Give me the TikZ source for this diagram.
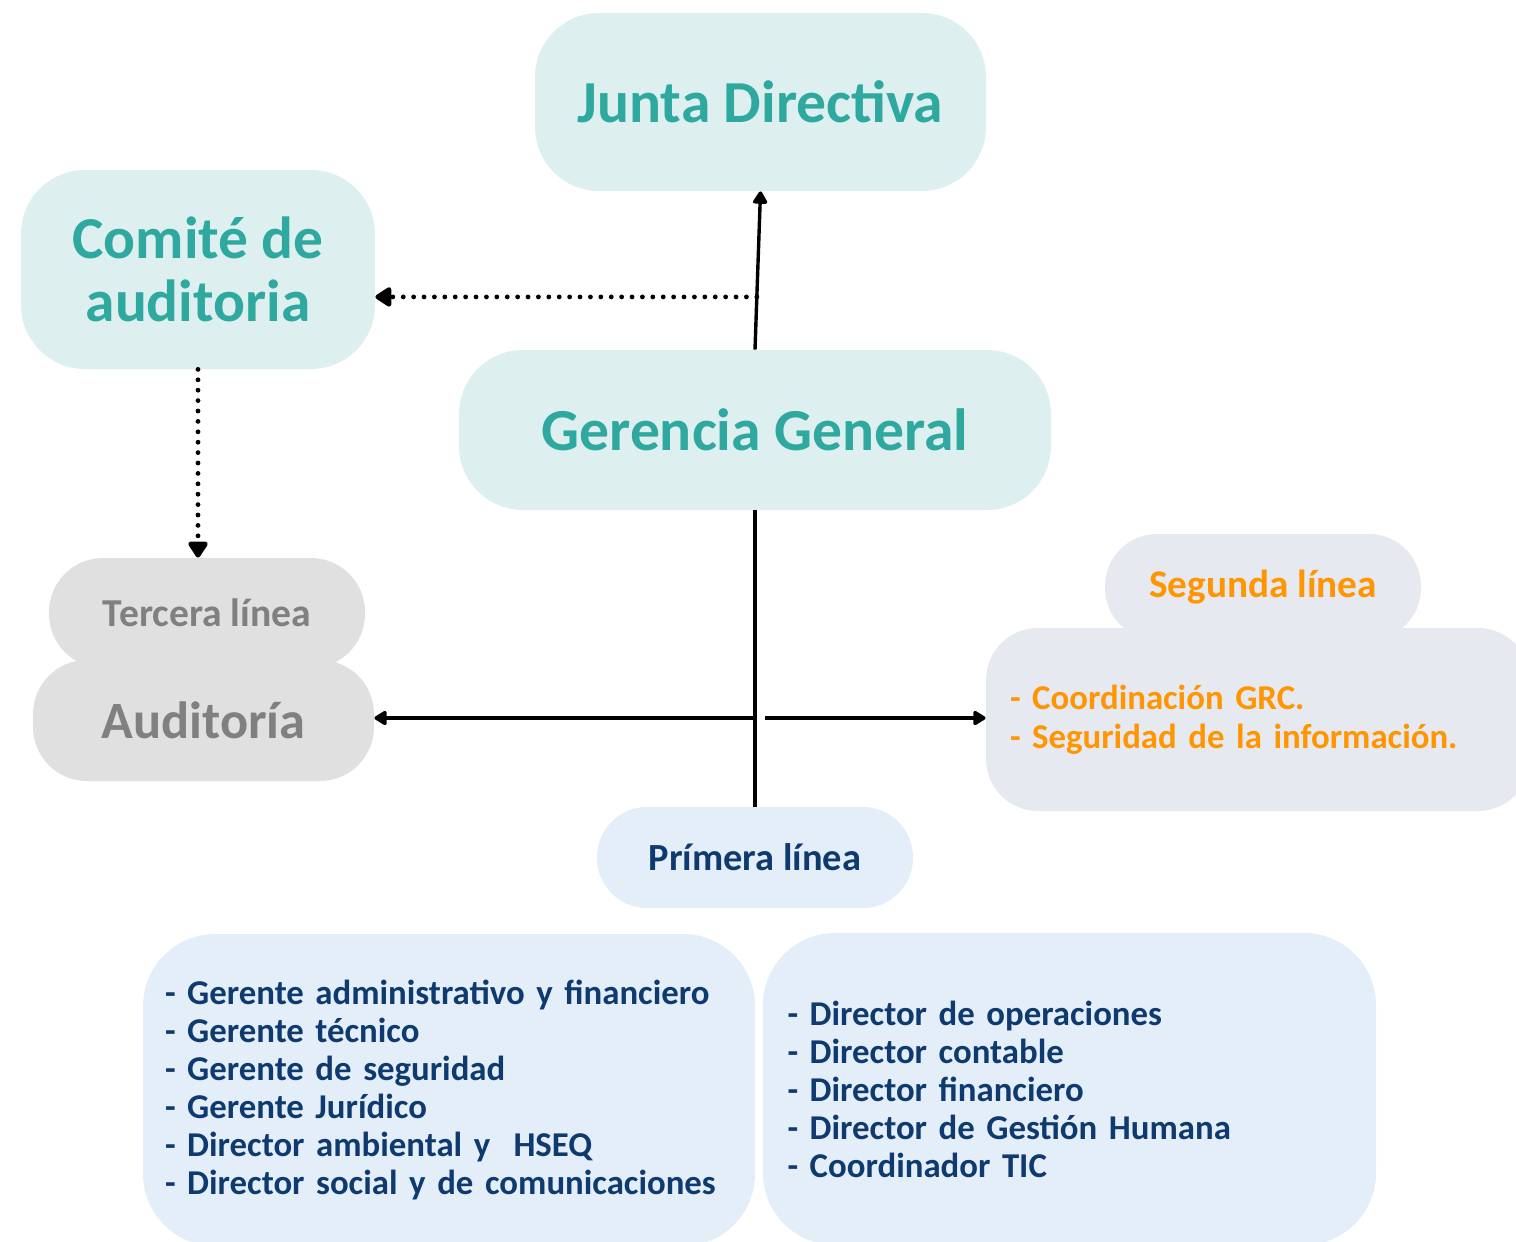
\documentclass[tikz,border=0pt]{standalone}
\usepackage{fontspec}
\setmainfont{Carlito}
\usetikzlibrary{arrows.meta,calc}
\definecolor{tealfill}{HTML}{DDF0EF}
\definecolor{tealtext}{HTML}{2FA99F}
\definecolor{grayfill}{HTML}{E0E0E0}
\definecolor{graytext}{HTML}{808080}
\definecolor{segfill}{HTML}{E6E9F0}
\definecolor{orangetext}{HTML}{FF9500}
\definecolor{bluefill}{HTML}{E4EEF9}
\definecolor{bluetext}{HTML}{0E3A70}
\begin{document}
\begin{tikzpicture}[
 x=0.5pt,y=-0.5pt,
 box/.style={inner sep=0pt,font=\bfseries,align=center},
 tealbox/.style={box,fill=tealfill,text=tealtext,rounded corners=32pt},
 graybox/.style={box,fill=grayfill,text=graytext,rounded corners=27pt},
 segbox/.style={box,fill=segfill,text=orangetext,rounded corners=26pt},
 bluebox/.style={box,fill=bluefill,text=bluetext,rounded corners=25pt},
 listbox/.style={bluebox,rounded corners=36pt,align=left,text width=#1,
  font=\bfseries\fontsize{17.4}{19}\selectfont},
 arr/.style={line width=1.7pt,-{Triangle[length=7pt,width=8pt,round]}},
 dotarr/.style={line width=2.4pt,line cap=round,dash pattern=on 0pt off 5.2pt,
  -{Triangle[length=9pt,width=11pt,round]}},
 plain/.style={line width=1.6pt}
]
\useasboundingbox (0,0) rectangle (1516,1242);
\node[tealbox,minimum width=225.5pt,minimum height=89pt,
 font=\bfseries\fontsize{29.8}{34}\selectfont] (junta) at (760.5,102) {Junta Directiva};
\node[tealbox,minimum width=177pt,minimum height=99.5pt,
 font=\bfseries\fontsize{29.7}{31.5}\selectfont] (comite) at (198,269.5) {Comité de\\auditoria};
\node[tealbox,minimum width=296pt,minimum height=80pt,
 font=\bfseries\fontsize{29.8}{34}\selectfont] (gerencia) at (755,430) {Gerencia General};
\node[graybox,minimum width=158pt,minimum height=55pt,
 font=\bfseries\fontsize{19.8}{23}\selectfont] (tercera) at (207,613) {Tercera línea};
\node[graybox,minimum width=170.5pt,minimum height=60.5pt,
 font=\bfseries\fontsize{26.2}{30}\selectfont] (auditoria) at (203.5,720.5) {Auditoría};
\node[segbox,minimum width=158pt,minimum height=53pt,
 font=\bfseries\fontsize{19.6}{23}\selectfont] (segunda) at (1263,587) {Segunda línea};
\node[segbox,minimum width=272pt,minimum height=91.5pt,align=left,text width=248pt,
 font=\bfseries\fontsize{17.4}{19.5}\selectfont] (segcuerpo) at (1258,719.5)
 {- Coordinación GRC.\\- Seguridad de la información.};
\node[bluebox,minimum width=158pt,minimum height=50.5pt,
 font=\bfseries\fontsize{19.2}{23}\selectfont] (primera) at (755,857.5) {Prímera línea};
\node[listbox=284pt,minimum width=306pt,minimum height=156pt] (gerentes) at (449,1090)
 {- Gerente administrativo y financiero\\- Gerente técnico\\- Gerente de seguridad\\- Gerente Jurídico\\- Director ambiental y \ HSEQ\\- Director social y de comunicaciones};
\node[listbox=282pt,minimum width=306.5pt,minimum height=156pt] (directores) at (1069.5,1089)
 {- Director de operaciones\\- Director contable\\- Director financiero\\- Director de Gestión Humana\\- Coordinador TIC};
\coordinate (cruce) at (757,718);
\coordinate (enlace) at ($(gerencia.north)!0.333!(junta.south)$);
\draw[arr] (gerencia.north) -- (junta.south);
\draw[dotarr] (enlace) -- (enlace -| comite.east);
\draw[dotarr] (comite.south) -- (comite.south |- tercera.north);
\draw[plain] (gerencia.south) -- (primera.north);
\draw[arr] (cruce) -- (cruce -| auditoria.east);
\draw[arr] ([xshift=4pt]cruce) -- (cruce -| segcuerpo.west);
\end{tikzpicture}
\end{document}
